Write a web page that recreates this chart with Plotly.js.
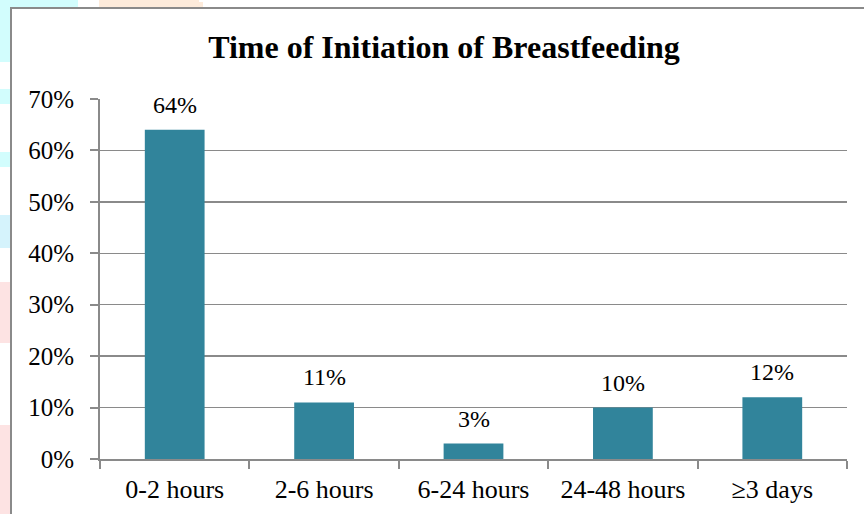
<!DOCTYPE html>
<html>
<head>
<meta charset="utf-8">
<script src="https://cdn.plot.ly/plotly-3.0.1.min.js"></script>
<style>html,body{margin:0;padding:0;background:#fff;}#chart{width:864px;height:514px;}</style>
</head>
<body>
<div id="chart"></div>
<script>
const categories = ["0-2 hours", "2-6 hours", "6-24 hours", "24-48 hours", "\u22653 days"];
const values = [0.64, 0.11, 0.03, 0.10, 0.12];
const labels = ["64%", "11%", "3%", "10%", "12%"];
const yTicks = [0, 0.1, 0.2, 0.3, 0.4, 0.5, 0.6, 0.7];

const W = 864, H = 514;
const m = {l: 100, r: 17, t: 99, b: 55};
const pw = W - m.l - m.r, ph = H - m.t - m.b;
const px = v => (v - m.l) / pw;
const py = v => (H - m.b - v) / ph;
const FONT = '"Liberation Serif", "Times New Roman", serif';

function rectPx(x0, y0, x1, y1, fill) {
  return {type: 'rect', xref: 'paper', yref: 'paper', layer: 'below',
    x0: px(x0), x1: px(x1), y0: py(y1), y1: py(y0),
    fillcolor: fill, line: {width: 0}};
}

const shapes = [
  rectPx(0, 0, 78, 8, '#d2fdfd'),
  rectPx(99, 0, 199, 8, '#fdebdb'),
  rectPx(199, 2, 203, 8, '#fdebdb'),
  rectPx(0, 0, 10, 62, '#d2fdfd'),
  rectPx(0, 89, 10, 104, '#d2fdfd'),
  rectPx(0, 152, 10, 167, '#d2fdfd'),
  rectPx(0, 215, 10, 248, '#d5f3fc'),
  rectPx(0, 282, 10, 343, '#fde3e3'),
  rectPx(0, 425, 10, 514, '#fde3e3'),
  {type: 'rect', xref: 'paper', yref: 'paper', layer: 'below',
    x0: px(11), x1: px(880), y0: py(530), y1: py(8),
    fillcolor: '#ffffff', line: {color: '#8a8a8a', width: 2}}
];

const annotations = categories.map((c, i) => ({
  x: c, y: values[i], xref: 'x', yref: 'y', text: labels[i],
  showarrow: false, yanchor: 'middle', yshift: 25,
  font: {family: FONT, size: 24, color: '#000'}
}));

const trace = {
  type: 'bar', x: categories, y: values,
  marker: {color: '#31849b', line: {width: 0}},
  hoverinfo: 'skip'
};

const axisCol = '#8a8a8a';
const layout = {
  width: W, height: H,
  margin: m,
  paper_bgcolor: '#ffffff',
  plot_bgcolor: 'rgba(0,0,0,0)',
  showlegend: false,
  bargap: 0.6,
  title: {text: '<b>Time of Initiation of Breastfeeding</b>',
    font: {family: FONT, size: 32, color: '#000'},
    x: 444 / W, xref: 'container', xanchor: 'center',
    y: 1 - 47 / H, yanchor: 'middle'},
  xaxis: {
    type: 'category', tickson: 'boundaries',
    ticks: 'outside', ticklen: 8, tickcolor: axisCol, tickwidth: 2,
    showline: true, linecolor: axisCol, linewidth: 2,
    showgrid: false, zeroline: false,
    tickfont: {family: FONT, size: 26, color: '#000'},
    ticklabelstandoff: 6
  },
  yaxis: {
    range: [0, 0.7], tickvals: yTicks, tickformat: '.0%',
    ticks: 'outside', ticklen: 8, tickcolor: axisCol, tickwidth: 2,
    showline: true, linecolor: axisCol, linewidth: 2,
    showgrid: true, gridcolor: axisCol, gridwidth: 1.5,
    zeroline: false,
    tickfont: {family: FONT, size: 25, color: '#000'},
    ticklabelstandoff: 11
  },
  shapes: shapes,
  annotations: annotations
};

Plotly.newPlot('chart', [trace], layout, {staticPlot: true, displayModeBar: false});
</script>
</body>
</html>
